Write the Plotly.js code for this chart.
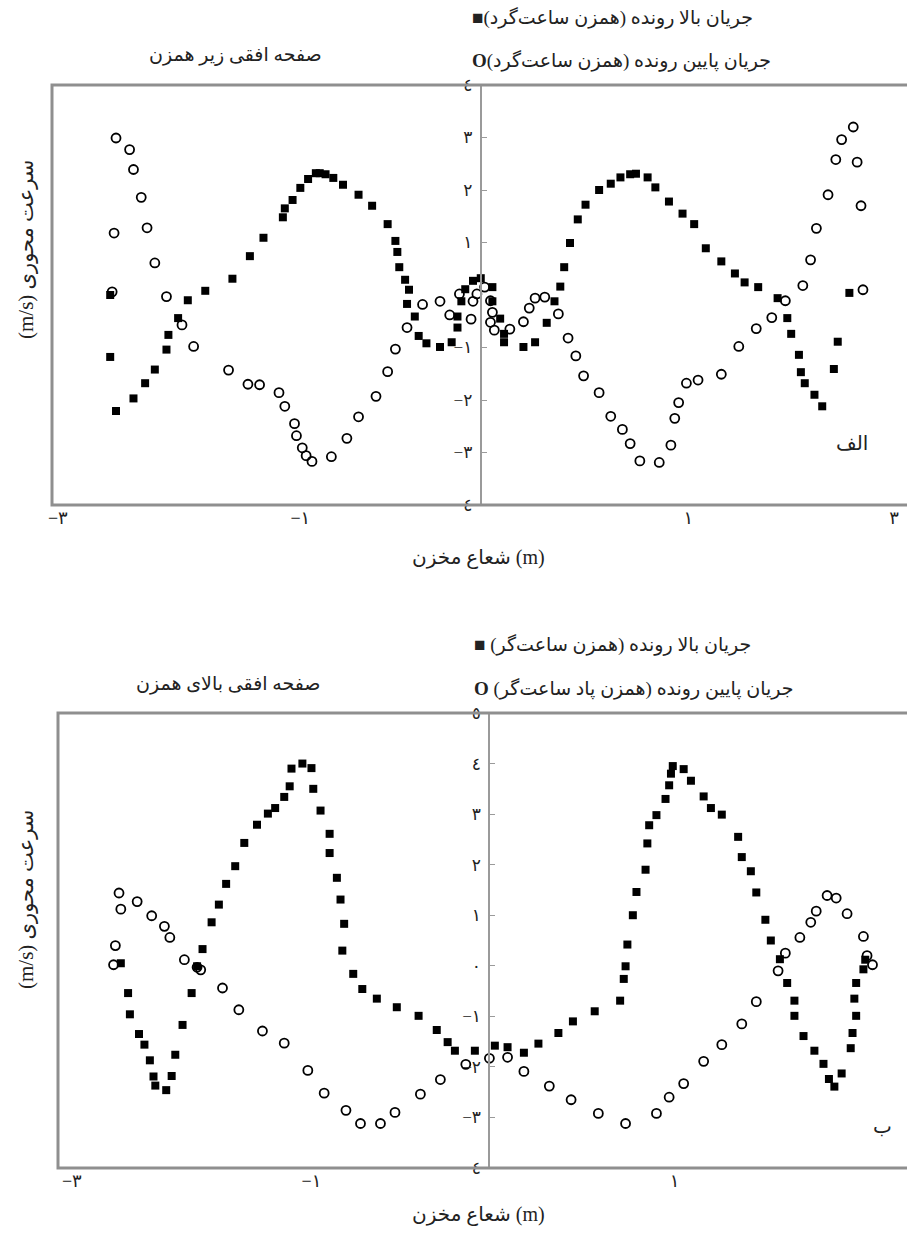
<!DOCTYPE html>
<html>
<head>
<meta charset="utf-8">
<script src="https://cdn.plot.ly/plotly-3.0.1.min.js"></script>
<style>html,body{margin:0;padding:0;background:#fff;}#chart{width:907px;height:1236px;}</style>
</head>
<body>
<div id="chart"></div>
<script>
// ---------- Top panel (الف): horizontal plane below impeller ----------
const topUpX = [-1.91,-1.91,-1.88,-1.79,-1.73,-1.68,-1.62,-1.61,-1.56,-1.51,-1.42,-1.28,-1.19,-1.12,-1.02,-1.01,-0.97,-0.93,-0.89,-0.85,-0.83,-0.80,-0.76,-0.71,-0.63,-0.56,-0.48,-0.44,-0.43,-0.42,-0.39,-0.37,-0.38,-0.34,-0.32,-0.28,-0.21,-0.15,-0.12,-0.12,-0.10,-0.08,-0.04,0.00,0.06,0.06,0.10,0.12,0.12,0.22,0.28,0.34,0.38,0.41,0.43,0.46,0.50,0.54,0.61,0.67,0.72,0.77,0.80,0.86,0.90,0.97,1.04,1.10,1.16,1.24,1.31,1.36,1.43,1.53,1.58,1.60,1.64,1.65,1.67,1.72,1.76,1.82,1.84,1.90];
const topUpY = [0.00,-1.18,-2.21,-1.97,-1.68,-1.42,-1.04,-0.76,-0.44,-0.10,0.08,0.31,0.74,1.09,1.48,1.65,1.81,2.04,2.21,2.32,2.32,2.30,2.23,2.10,1.91,1.70,1.35,1.03,0.82,0.53,0.29,0.10,-0.17,-0.41,-0.78,-0.92,-0.99,-0.90,-0.62,-0.41,-0.12,0.11,0.27,0.32,0.15,-0.12,-0.45,-0.74,-0.90,-0.99,-0.90,-0.53,-0.12,0.16,0.53,0.99,1.44,1.72,2.00,2.12,2.24,2.30,2.31,2.24,2.05,1.78,1.55,1.35,0.89,0.64,0.41,0.24,0.15,-0.06,-0.44,-0.74,-1.14,-1.47,-1.68,-1.90,-2.12,-1.41,-0.89,0.04];
const topDownX = [-1.88,-1.81,-1.79,-1.75,-1.72,-1.89,-1.68,-1.90,-1.62,-1.54,-1.48,-1.30,-1.20,-1.14,-1.04,-1.01,-0.96,-0.95,-0.92,-0.90,-0.87,-0.77,-0.69,-0.63,-0.54,-0.48,-0.44,-0.38,-0.30,-0.21,-0.16,-0.11,-0.05,-0.04,-0.02,0.02,0.05,0.06,0.05,0.07,0.15,0.22,0.25,0.28,0.33,0.40,0.45,0.49,0.53,0.61,0.67,0.73,0.77,0.82,0.92,0.98,1.00,1.02,1.06,1.12,1.24,1.33,1.42,1.50,1.57,1.66,1.70,1.73,1.79,1.83,1.86,1.92,1.94,1.96,1.97];
const topDownY = [2.99,2.77,2.39,1.86,1.28,1.18,0.61,0.06,-0.03,-0.57,-0.98,-1.43,-1.70,-1.71,-1.86,-2.12,-2.45,-2.68,-2.91,-3.06,-3.17,-3.08,-2.73,-2.32,-1.93,-1.46,-1.03,-0.62,-0.18,-0.12,-0.38,0.02,-0.46,-0.12,0.02,0.15,-0.11,-0.33,-0.52,-0.67,-0.65,-0.51,-0.25,-0.06,-0.04,-0.36,-0.82,-1.16,-1.54,-1.86,-2.31,-2.56,-2.83,-3.16,-3.19,-2.86,-2.35,-2.05,-1.68,-1.62,-1.51,-0.98,-0.64,-0.43,-0.11,0.18,0.67,1.27,1.91,2.58,2.96,3.20,2.53,1.70,0.10];

// ---------- Bottom panel (ب): horizontal plane above impeller ----------
const botUpX = [-2.03,-1.99,-1.98,-1.93,-1.90,-1.87,-1.85,-1.84,-1.78,-1.75,-1.73,-1.69,-1.64,-1.61,-1.58,-1.53,-1.49,-1.45,-1.40,-1.35,-1.28,-1.22,-1.18,-1.13,-1.10,-1.09,-1.03,-0.98,-0.97,-0.93,-0.88,-0.88,-0.84,-0.82,-0.80,-0.81,-0.75,-0.70,-0.62,-0.51,-0.39,-0.29,-0.23,-0.19,-0.08,0.03,0.10,0.19,0.27,0.38,0.46,0.58,0.72,0.74,0.75,0.76,0.79,0.81,0.86,0.87,0.88,0.92,0.97,0.99,1.00,1.01,1.07,1.11,1.18,1.22,1.28,1.37,1.39,1.44,1.47,1.52,1.55,1.60,1.64,1.68,1.68,1.73,1.79,1.84,1.87,1.90,1.94,1.99,2.00,2.02,2.01,2.02,2.06,2.07];
const botUpY = [0.05,-0.54,-0.96,-1.35,-1.56,-1.87,-2.19,-2.37,-2.46,-2.18,-1.76,-1.17,-0.54,-0.01,0.33,0.86,1.21,1.62,1.97,2.43,2.79,3.01,3.12,3.34,3.55,3.90,4.00,3.91,3.50,3.07,2.61,2.23,1.74,1.31,0.83,0.30,-0.16,-0.46,-0.65,-0.82,-0.99,-1.27,-1.51,-1.68,-1.68,-1.58,-1.61,-1.72,-1.54,-1.33,-1.10,-0.90,-0.69,-0.26,-0.01,0.42,1.00,1.46,1.90,2.42,2.78,2.98,3.30,3.57,3.80,3.95,3.89,3.66,3.35,3.12,2.99,2.55,2.15,1.87,1.45,0.91,0.50,0.13,-0.34,-0.69,-0.99,-1.39,-1.68,-1.94,-2.24,-2.39,-2.13,-1.63,-1.33,-0.99,-0.65,-0.34,-0.07,0.12];
const botDownX = [-2.07,-2.06,-2.04,-2.03,-1.94,-1.86,-1.79,-1.76,-1.68,-1.61,-1.59,-1.47,-1.38,-1.25,-1.13,-1.00,-0.91,-0.79,-0.71,-0.60,-0.52,-0.38,-0.27,-0.13,0.00,0.10,0.19,0.33,0.45,0.60,0.75,0.92,0.99,1.07,1.18,1.28,1.39,1.47,1.59,1.63,1.71,1.77,1.80,1.86,1.91,1.97,2.06,2.08,2.11];
const botDownY = [0.02,0.40,1.44,1.12,1.27,0.99,0.78,0.56,0.12,-0.03,-0.08,-0.44,-0.87,-1.29,-1.53,-2.07,-2.52,-2.86,-3.12,-3.12,-2.90,-2.54,-2.25,-1.95,-1.83,-1.81,-2.09,-2.38,-2.65,-2.92,-3.12,-2.92,-2.60,-2.33,-1.89,-1.56,-1.15,-0.71,-0.10,0.25,0.56,0.86,1.08,1.39,1.34,1.03,0.58,0.20,0.02];

// ---------- Tick labels ----------
const topXTickVals = [-2.18, -0.93, 1.07, 2.13];
const botXTickVals = [-2.30, -0.98, 1.02];
const xTickText = ['\u2212\u06F3', '\u2212\u06F1', '\u06F1', '\u06F3'];
const topYTickVals = [-4, -3, -2, -1, 1, 2, 3, 4];
const topYTickText = ['\u2212\u0664', '\u2212\u06F3', '\u2212\u06F2', '\u2212\u06F1', '\u06F1', '\u06F2', '\u06F3', '\u0664'];
const botYTickVals = [-4, -3, -2, -1, 0, 1, 2, 3, 4, 5];
const botYTickText = ['\u2212\u0664', '\u2212\u06F3', '\u2212\u06F2', '\u2212\u06F1', '\u0660', '\u06F1', '\u06F2', '\u06F3', '\u0664', '\u0665'];

// ---------- Texts ----------
const RLM = '\u200F';
const topTitle = 'صفحه افقی زیر همزن';
const botTitle = 'صفحه افقی بالای همزن';
const topLegUp = 'جریان بالا رونده (همزن ساعت‌گرد)';
const topLegDown = 'جریان پایین رونده (همزن ساعت‌گرد)';
const botLegUp = 'جریان بالا رونده (همزن ساعت‌گر)';
const botLegDown = 'جریان پایین رونده (همزن پاد ساعت‌گر)';
const xTitle = 'شعاع مخزن (m)';
const yTitleVisual = '(m/s) سرعت محوری';
const topTag = 'الف';
const botTag = 'ب';

const FONT = 'Liberation Serif, DejaVu Sans, serif';
const TXT = 19;
const sq = {symbol: 'square', size: 8, color: '#000'};
const ci = {symbol: 'circle-open', size: 9, color: '#000', line: {width: 1.8, color: '#000'}};

const traces = [
  {x: topUpX, y: topUpY, xaxis: 'x', yaxis: 'y', mode: 'markers', marker: sq, type: 'scatter'},
  {x: topDownX, y: topDownY, xaxis: 'x', yaxis: 'y', mode: 'markers', marker: ci, type: 'scatter'},
  {x: botUpX, y: botUpY, xaxis: 'x2', yaxis: 'y2', mode: 'markers', marker: sq, type: 'scatter'},
  {x: botDownX, y: botDownY, xaxis: 'x2', yaxis: 'y2', mode: 'markers', marker: ci, type: 'scatter'}
];

const W = 907, H = 1236, ML = 52, MT = 85, MB = 68;
const PW = W - ML, PH = H - MT - MB;
const px = v => (v - ML) / PW;
const py = v => (H - MB - v) / PH;

const xBase = {showgrid: false, zeroline: false, showline: false, ticks: '', tickfont: {family: FONT, size: 18, color: '#222'}};
const yBase = {anchor: 'free', showgrid: false, zeroline: false, showline: true, linecolor: '#9a9a9a', linewidth: 2,
  ticks: 'inside', ticklen: 5, tickcolor: '#9a9a9a', tickwidth: 1, ticklabelstandoff: 4,
  tickfont: {family: FONT, size: 17, color: '#222'}};

const ann = (text, x, y, opts) => Object.assign({text: text, x: x, y: y, xref: 'paper', yref: 'paper', showarrow: false,
  font: {family: FONT, size: TXT, color: '#222'}}, opts || {});

const layout = {
  width: W, height: H,
  margin: {l: ML, r: 0, t: MT, b: MB},
  paper_bgcolor: '#fff', plot_bgcolor: '#fff',
  showlegend: false,
  xaxis: Object.assign({}, xBase, {domain: [0, 1], anchor: 'y', range: [-2.21, 2.197], tickvals: topXTickVals, ticktext: xTickText}),
  yaxis: Object.assign({}, yBase, {domain: [py(505), 1], position: px(480.7), range: [-4, 4], tickvals: topYTickVals, ticktext: topYTickText}),
  xaxis2: Object.assign({}, xBase, {domain: [px(58), 1], anchor: 'y2', range: [-2.376, 2.30], tickvals: botXTickVals, ticktext: xTickText.slice(0, 3)}),
  yaxis2: Object.assign({}, yBase, {domain: [0, py(713)], position: px(489.3), range: [-4, 5], tickvals: botYTickVals, ticktext: botYTickText}),
  shapes: [
    {type: 'rect', xref: 'paper', yref: 'paper', x0: 0, x1: 1.05, y0: py(505), y1: 1, line: {color: '#8f8f8f', width: 3}},
    {type: 'rect', xref: 'paper', yref: 'paper', x0: px(58), x1: 1.05, y0: 0, y1: py(713), line: {color: '#8f8f8f', width: 3}}
  ],
  annotations: [
    ann(topTitle, px(235), py(55), {xanchor: 'center', yanchor: 'middle'}),
    ann('\u25A0' + topLegUp + RLM, px(470), py(18), {xanchor: 'left', yanchor: 'middle'}),
    ann('<b>O</b>' + topLegDown + RLM, px(470), py(61), {xanchor: 'left', yanchor: 'middle'}),
    ann(topTag, px(852), py(443), {xanchor: 'center', yanchor: 'middle', font: {family: FONT, size: 20, color: '#222'}}),
    ann(xTitle, px(478), py(557), {xanchor: 'center', yanchor: 'middle', font: {family: FONT, size: 20, color: '#222'}}),
    ann(yTitleVisual, px(26), py(250), {xanchor: 'center', yanchor: 'middle', textangle: -90, font: {family: FONT, size: 21, color: '#222'}}),
    ann('\u25A0 ' + botLegUp + RLM, px(472), py(644), {xanchor: 'left', yanchor: 'middle'}),
    ann(botTitle, px(228), py(684), {xanchor: 'center', yanchor: 'middle'}),
    ann('<b>O</b> ' + botLegDown + RLM, px(472), py(688), {xanchor: 'left', yanchor: 'middle'}),
    ann(botTag, px(882), py(1126), {xanchor: 'center', yanchor: 'middle', font: {family: FONT, size: 20, color: '#222'}}),
    ann(xTitle, px(478), py(1214), {xanchor: 'center', yanchor: 'middle', font: {family: FONT, size: 20, color: '#222'}}),
    ann(yTitleVisual, px(26), py(900), {xanchor: 'center', yanchor: 'middle', textangle: -90, font: {family: FONT, size: 21, color: '#222'}})
  ]
};

Plotly.newPlot('chart', traces, layout, {displayModeBar: false, staticPlot: true});
</script>
</body>
</html>
